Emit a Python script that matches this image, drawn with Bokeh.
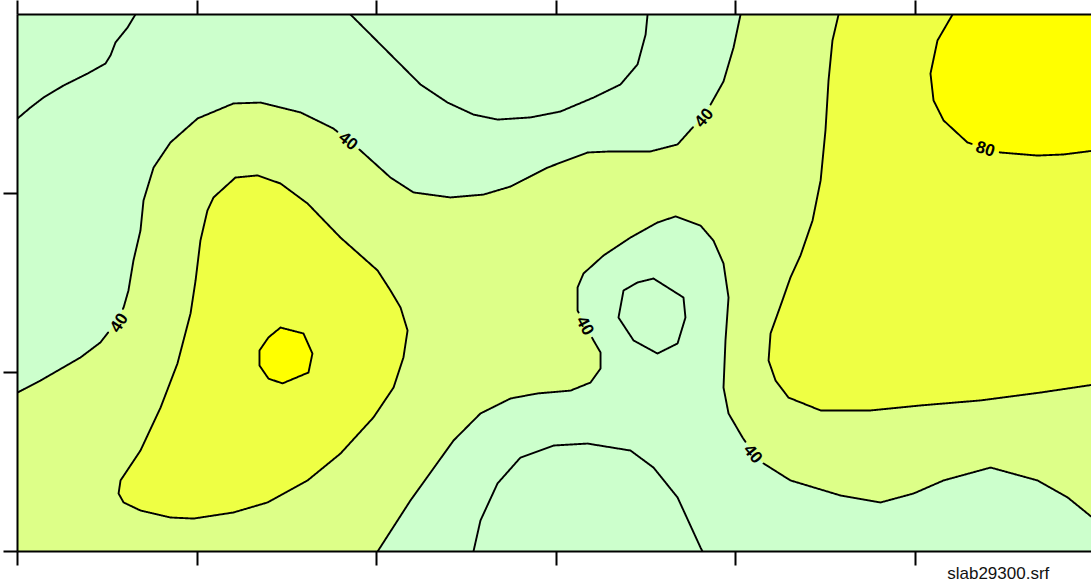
import numpy as np
from bokeh.plotting import figure
from bokeh.models import Range1d, FixedTicker, LinearAxis, Title, ColumnDataSource
from bokeh.core.properties import value
from bokeh.embed import file_html
from bokeh.resources import INLINE

# ---- map extent (grid units) ----
x_min, x_max, y_min, y_max = 0.0, 6.0, 0.0, 3.0
x_view_end = 5.983
x_ticks = [0, 1, 2, 3, 4, 5, 6]
y_ticks = [0, 1, 2]

# ---- contour levels and band colours ----
levels = [20, 40, 60, 80]
color_lt40 = "#CCFFCC"
color_40_60 = "#DDFF88"
color_60_80 = "#EEFF44"
color_gt80 = "#FFFF00"

# ---- digitised isolines (grid units) ----
# level 20, top-left corner
c20_a_x = [0.657, 0.613, 0.546, 0.518, 0.490, 0.390, 0.256, 0.145, 0.072, 0.0]
c20_a_y = [3.0, 2.927, 2.844, 2.771, 2.726, 2.670, 2.603, 2.536, 2.480, 2.419]
# level 20, top middle trough
c20_b_x = [1.855, 1.911, 2.245, 2.396, 2.540, 2.674, 2.858, 3.025, 3.209, 3.359, 3.454, 3.499, 3.510]
c20_b_y = [3.0, 2.944, 2.609, 2.508, 2.441, 2.413, 2.425, 2.458, 2.536, 2.609, 2.721, 2.888, 3.0]
# level 20, small closed low
c20_c_x = [3.543, 3.710, 3.721, 3.677, 3.565, 3.432, 3.348, 3.376, 3.454]
c20_c_y = [1.525, 1.419, 1.307, 1.162, 1.106, 1.179, 1.307, 1.458, 1.503]
# level 20, bottom dome
c20_d_x = [2.540, 2.579, 2.674, 2.802, 2.986, 3.175, 3.415, 3.543, 3.677, 3.805, 3.816]
c20_d_y = [0.0, 0.173, 0.380, 0.525, 0.592, 0.603, 0.564, 0.469, 0.302, 0.022, 0.0]
# level 40, upper boundary
c40_b_x = [0.0, 0.128, 0.351, 0.462, 0.557, 0.591, 0.618, 0.646, 0.685, 0.702, 0.758, 0.852,
           1.003, 1.203, 1.354, 1.577, 1.760, 1.911, 2.078, 2.206, 2.412, 2.596, 2.747, 2.953,
           3.175, 3.304, 3.526, 3.677, 3.816, 3.861, 3.933, 3.989, 4.028]
c40_b_y = [0.888, 0.955, 1.084, 1.168, 1.291, 1.363, 1.458, 1.626, 1.793, 1.961, 2.145, 2.285,
           2.419, 2.503, 2.508, 2.453, 2.363, 2.240, 2.089, 2.006, 1.978, 1.994, 2.039, 2.145,
           2.229, 2.235, 2.235, 2.274, 2.430, 2.497, 2.626, 2.816, 3.0]
# level 40, lower boundary
c40_c_x = [2.006, 2.189, 2.429, 2.579, 2.747, 2.897, 3.081, 3.192, 3.248, 3.248, 3.209, 3.164,
           3.120, 3.120, 3.153, 3.265, 3.415, 3.565, 3.666, 3.805, 3.877, 3.933, 3.961, 3.944,
           3.933, 3.961, 4.039, 4.100, 4.156, 4.306, 4.585, 4.808, 4.992, 5.159, 5.421, 5.682,
           5.850, 6.0]
c40_c_y = [0.0, 0.285, 0.620, 0.771, 0.855, 0.883, 0.899, 0.944, 1.022, 1.112, 1.179, 1.263,
           1.346, 1.475, 1.553, 1.654, 1.754, 1.838, 1.872, 1.821, 1.737, 1.609, 1.419, 1.179,
           0.916, 0.771, 0.637, 0.547, 0.492, 0.397, 0.313, 0.274, 0.324, 0.397, 0.469, 0.397,
           0.302, 0.180]
# level 60, left closed high
c60_l_x = [1.092, 1.214, 1.337, 1.465, 1.616, 1.799, 2.006, 2.078, 2.134, 2.173, 2.150, 2.095,
           1.983, 1.799, 1.616, 1.393, 1.203, 0.981, 0.852, 0.685, 0.591, 0.563, 0.574, 0.685,
           0.797, 0.891, 0.964, 0.992, 1.019, 1.058]
c60_l_y = [1.978, 2.089, 2.101, 2.056, 1.944, 1.754, 1.570, 1.458, 1.363, 1.235, 1.084, 0.916,
           0.749, 0.547, 0.397, 0.274, 0.218, 0.184, 0.190, 0.229, 0.274, 0.324, 0.397, 0.564,
           0.804, 1.050, 1.330, 1.514, 1.737, 1.905]
# level 60, right high
c60_r_x = [4.574, 4.540, 4.518, 4.501, 4.474, 4.429, 4.362, 4.306, 4.251, 4.195, 4.184, 4.223,
           4.295, 4.474, 4.752, 5.031, 5.365, 5.699, 6.0]
c60_r_y = [3.0, 2.855, 2.631, 2.352, 2.073, 1.849, 1.654, 1.531, 1.374, 1.218, 1.067, 0.955,
           0.860, 0.788, 0.788, 0.816, 0.844, 0.888, 0.933]
# level 80, left small peak
c80_l_x = [1.465, 1.593, 1.643, 1.621, 1.476, 1.398, 1.348, 1.348, 1.398]
c80_l_y = [1.251, 1.218, 1.106, 1.000, 0.939, 0.966, 1.039, 1.123, 1.196]
# level 80, top-right peak
c80_r_x = [5.209, 5.125, 5.086, 5.103, 5.159, 5.292, 5.393, 5.476, 5.682, 5.827, 6.0]
c80_r_y = [3.0, 2.855, 2.670, 2.520, 2.408, 2.285, 2.251, 2.229, 2.212, 2.218, 2.240]

# ---- contour labels ----
label_text = ["40", "40", "40", "80", "40", "40"]
label_x = [0.563, 1.844, 3.822, 5.393, 3.164, 4.100]
label_y = [1.279, 2.296, 2.425, 2.251, 1.263, 0.547]
label_angle_deg = [57, -39, 50, -17, -62, -51]

file_caption = "slab29300.srf"

# ---- figure ----
p = figure(frame_width=1074, frame_height=537,
           x_range=Range1d(x_min, x_view_end), y_range=Range1d(y_min, y_max),
           output_backend="svg", toolbar_location=None,
           x_axis_location=None, y_axis_location=None,
           min_border_left=17, min_border_right=0, min_border_top=14, min_border_bottom=0,
           background_fill_color=color_lt40, border_fill_color="white",
           outline_line_color=None)
p.xgrid.visible = False
p.ygrid.visible = False


def make_axis(ticks, tick_out):
    return LinearAxis(ticker=FixedTicker(ticks=ticks, minor_ticks=[]),
                      major_label_overrides={t: "" for t in ticks},
                      major_tick_out=tick_out, major_tick_in=0,
                      minor_tick_out=0, minor_tick_in=0,
                      major_label_standoff=0,
                      axis_line_width=2, major_tick_line_width=2,
                      axis_line_color="black", major_tick_line_color="black")


p.add_layout(make_axis(y_ticks, 14), "left")
p.add_layout(make_axis(x_ticks, 14), "below")
p.add_layout(make_axis(x_ticks, 14), "above")

# file name caption under the map, right-hand side
p.add_layout(Title(text=file_caption, align="left", offset=929.7, standoff=-4,
                   vertical_align="top", text_font="Liberation Sans",
                   text_font_size="17px", text_font_style="normal",
                   text_color="#111111"), "below")

# ---- filled bands (painted from low to high) ----
band40_x = c40_b_x + [x_max] + c40_c_x[::-1] + [x_min]
band40_y = c40_b_y + [y_max] + c40_c_y[::-1] + [y_min]
p.patch(band40_x, band40_y, fill_color=color_40_60, line_color=None)

p.patch(c60_l_x, c60_l_y, fill_color=color_60_80, line_color=None)
p.patch(c60_r_x + [x_max], c60_r_y + [y_max], fill_color=color_60_80, line_color=None)

p.patch(c80_l_x, c80_l_y, fill_color=color_gt80, line_color=None)
p.patch(c80_r_x + [x_max], c80_r_y + [y_max], fill_color=color_gt80, line_color=None)


# ---- isolines, broken where a label sits ----
def gapped(xs, ys, closed=False, step=0.004, r=0.078):
    xs = list(xs)
    ys = list(ys)
    if closed:
        xs.append(xs[0])
        ys.append(ys[0])
    ox, oy = [], []
    for i in range(len(xs) - 1):
        n = max(1, int(np.hypot(xs[i + 1] - xs[i], ys[i + 1] - ys[i]) / step))
        t = np.arange(n) / n
        ox.extend(xs[i] + t * (xs[i + 1] - xs[i]))
        oy.extend(ys[i] + t * (ys[i + 1] - ys[i]))
    ox.append(xs[-1])
    oy.append(ys[-1])
    ox = np.array(ox, dtype=float)
    oy = np.array(oy, dtype=float)
    for lx, ly in zip(label_x, label_y):
        m = np.hypot(ox - lx, oy - ly) < r
        ox[m] = np.nan
        oy[m] = np.nan
    return ox, oy


lines = [
    (c20_a_x, c20_a_y, False),
    (c20_b_x, c20_b_y, False),
    (c20_c_x, c20_c_y, True),
    (c20_d_x, c20_d_y, False),
    (c40_b_x, c40_b_y, False),
    (c40_c_x, c40_c_y, False),
    (c60_l_x, c60_l_y, True),
    (c60_r_x, c60_r_y, False),
    (c80_l_x, c80_l_y, True),
    (c80_r_x, c80_r_y, False),
]
for lx, ly, closed in lines:
    gx, gy = gapped(lx, ly, closed)
    p.line(gx, gy, line_color="black", line_width=1.9, line_join="round", line_cap="round")

lab_src = ColumnDataSource(dict(x=label_x, y=label_y, text=label_text,
                                angle=list(np.radians(label_angle_deg))))
p.text(x="x", y="y", text="text", angle="angle", source=lab_src,
       text_font=value("Liberation Sans"), text_font_size=value("17px"),
       text_font_style="bold",
       text_align="center", text_baseline="middle", text_color="black")

open("out.html", "w").write(file_html(p, INLINE))
